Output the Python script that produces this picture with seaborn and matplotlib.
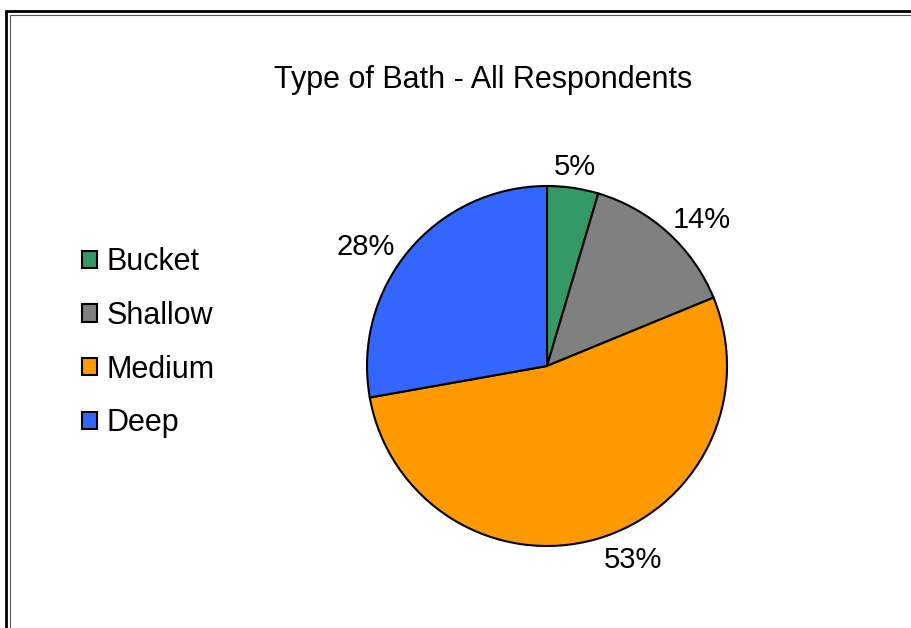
import seaborn as sns
import matplotlib.pyplot as plt
from matplotlib.patches import Rectangle

# data
categories = ['Bucket', 'Shallow', 'Medium', 'Deep']
shares = [4.6, 14.2, 53.4, 27.8]
colors = ['#339966', '#808080', '#FF9900', '#3366FF']

sns.set_theme(style='white')
plt.rcParams['font.family'] = ['Liberation Sans', 'DejaVu Sans']
plt.rcParams['text.color'] = 'black'

W, H = 912, 628
fig = plt.figure(figsize=(W / 100, H / 100), dpi=100)

# pie axes placed by pixel centre / radius
cx, cy, r = 547, 366, 180
lim = 1.2
side = 2 * lim * r
ax = fig.add_axes([(cx - side / 2) / W, (H - cy - side / 2) / H, side / W, side / H])

wedges, texts, autotexts = ax.pie(
    shares, colors=colors, startangle=90, counterclock=False,
    autopct='%.0f%%', pctdistance=1.16,
    wedgeprops=dict(edgecolor='black', linewidth=1.5),
    textprops=dict(fontsize=21, color='black'))
ax.set_xlim(-lim, lim)
ax.set_ylim(-lim, lim)
ax.set_aspect('equal')
ax.axis('off')

# excel puts its labels a bit off the radial line, nudge them (px)
nudges = [(-2, 8), (15, 9), (28, -7), (-21, 15)]
for t, (dx, dy) in zip(autotexts, nudges):
    x, y = t.get_position()
    t.set_position((x + dx / r, y - dy / r))

fig.text(483 / W, 1 - 80 / H, 'Type of Bath - All Respondents',
         ha='center', va='center', fontsize=22, color='black')

fig.legend(wedges, categories, loc='upper left',
           bbox_to_anchor=(54 / W, 1 - 220 / H), frameon=False,
           fontsize=22, handlelength=0.5, handleheight=0.5,
           handletextpad=0.33, labelspacing=0.77)

# double border like the original frame
fig.add_artist(Rectangle((6 / W, -0.1), 1.2, 1 - 11 / H + 0.1,
                         transform=fig.transFigure, fill=False,
                         edgecolor='black', linewidth=2))
fig.add_artist(Rectangle((10 / W, -0.1), 1.2, 1 - 15 / H + 0.1,
                         transform=fig.transFigure, fill=False,
                         edgecolor='#555555', linewidth=0.8))

fig.savefig('out.png', dpi=100)
